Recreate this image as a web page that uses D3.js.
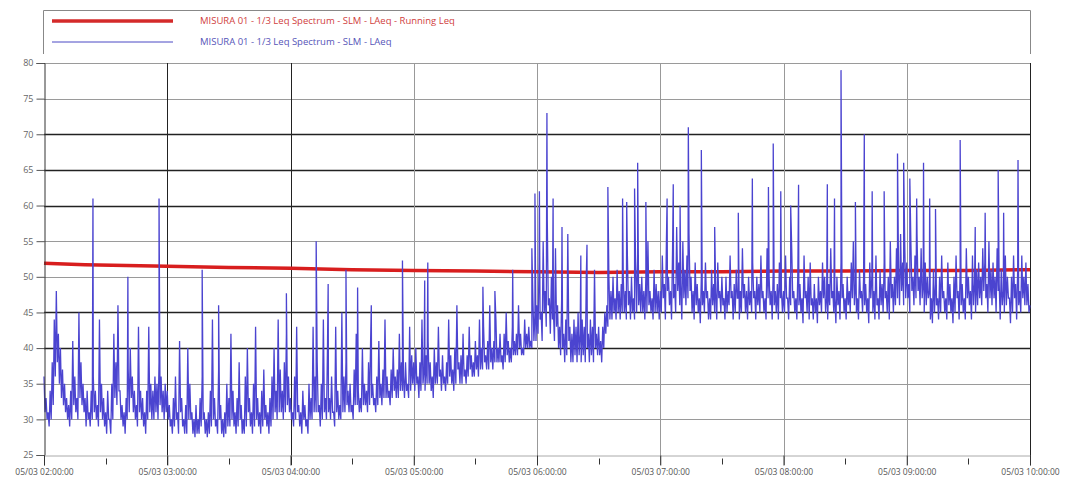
<!DOCTYPE html>
<html>
<head>
<meta charset="utf-8">
<script src="https://cdn.jsdelivr.net/npm/d3@7"></script>
<style>
  body { margin: 0; background: #fff; }
  svg text { font-family: "Open Sans", "DejaVu Sans", sans-serif; }
</style>
</head>
<body>
<svg id="chart" width="1065" height="482"></svg>
<script>
// LAeq read per minute (05/03 02:00 -> 10:00): upper value at :00, lower value at :30
var hi02 = [36,33,31,34,38,44,48,42,40,37,35,33,32,34,41,36,33,45,38,35,33,34,31,34,36,34,32,44,35,33,31,34,30,35,42,38,46,34,32,31,33,37,40,36,34,32,43,34,33,31,34,43,35,34,36,35,38,36,34,35];
var lo02 = [31,30,29,30,32,36,38,35,33,32,31,30,29,30,32,31,30,33,32,31,29,30,29,30,31,30,29,31,30,29,28,30,28,30,33,32,34,30,29,28,30,31,33,31,30,29,31,30,29,28,30,31,30,30,31,30,32,31,30,31];
var hi03 = [34,32,30,33,36,31,41,33,30,32,40,35,31,30,32,30,33,36,31,30,31,34,44,33,30,37,32,30,31,35,33,42,34,31,33,38,32,30,36,40,33,31,35,43,33,31,34,37,32,31,33,36,40,34,44,37,34,38,42,36];
var lo03 = [30,29,28,29,30,28,31,29,28,28,30,30,28,27.5,28,28,29,30,28,27.5,28,29,30,29,28,30,28,27.5,28,29,29,30,29,28,29,30,28,28,29,31,29,28,29,30,29,28,29,30,29,28,29,30,31,30,31,31,30,31,32,31];
var hi04 = [33,31,36,43,32,31,34,32,30,35,33,43,36,38,32,35,44,33,40,33,36,31,43,34,32,45,36,38,34,35,32,37,42,34,33,40,35,34,38,41,35,33,36,41,35,37,44,36,34,37,40,36,37,42,38,36,38,35,43,39];
var lo04 = [30,29,30,31,29,28,30,29,28,30,30,31,31,31,29,30,31,30,31,30,31,29,31,30,30,31,31,32,31,31,30,32,32,31,31,32,32,31,32,33,32,31,32,33,32,33,33,33,32,33,34,33,33,34,34,33,34,33,34,35];
var hi05 = [38,40,36,38,44,37,39,41,38,36,40,38,43,37,39,36,38,44,39,37,40,46,38,39,42,37,39,43,39,38,41,39,44,40,43,39,41,46,40,41,44,40,42,39,42,45,41,40,43,41,42,46,42,40,44,42,43,41,47,45];
var lo05 = [34,35,33,34,35,34,35,35,34,33,35,35,36,34,35,34,35,36,35,34,35,37,35,35,36,35,36,37,36,36,37,36,37,37,38,37,37,38,37,38,38,38,38,37,38,39,38,38,39,39,39,40,39,39,40,40,40,40,41,41];
var hi06 = [46,52,45,55,48,58,47,50,45,54,46,43,47,42,44,56,43,42,44,43,45,42,44,43,50,42,44,43,51,42,43,41,43,45,46,50,48,50,47,51,48,49,50,48,53,48,50,47,52,53,49,50,48,50,55,48,47,51,49,48];
var lo06 = [42,44,41,45,43,46,42,44,41,43,40,39,40,38,39,41,38,38,39,38,39,38,39,38,40,38,39,38,40,39,39,38,40,42,43,44,44,45,44,45,44,45,45,44,46,44,45,44,45,46,45,45,44,45,46,45,44,45,45,44];
var hi07 = [48,53,49,55,50,48,54,49,57,52,49,55,51,53,56,50,48,52,49,47,50,48,52,48,47,51,49,48,52,48,50,47,50,48,53,48,49,51,47,48,54,49,48,50,48,52,48,50,49,53,48,47,54,50,48,51,48,49,52,48];
var lo07 = [45,47,44,48,46,44,47,45,48,46,44,47,46,47,48,45,44,46,45,43.5,46,45,47,44,44,46,45,44,47,45,46,44,45,46,47,44,45,47,44,45,47,45,44,46,45,47,44,46,45,47,45,44,47,46,44,46,45,44,47,45];
var hi08 = [48,53,47,50,54,48,47,51,49,47,53,48,50,52,47,49,47,50,48,52,50,47,49,54,48,47,50,48,52,49,47,50,48,52,55,49,47,51,48,50,49,47,52,50,48,53,47,51,49,52,48,50,55,49,50,54,51,56,52,55];
var lo08 = [45,47,44,46,47,45,44,46,45,43.5,47,45,44,46,44,45,43.5,46,45,47,45,44,46,47,45,43.5,46,44,47,45,44,46,45,47,46,45,44,47,45,46,45,43.5,47,45,44,46,44,46,45,47,45,44,47,45,46,47,46,48,46,47];
var hi09 = [52,49,55,50,53,56,50,54,49,52,50,48,47,51,49,47,50,53,48,47,52,49,47,50,53,48,51,49,47,54,50,48,53,49,51,52,50,54,52,49,55,51,52,50,54,49,51,48,53,50,47,50,53,49,51,48,53,50,52,49,46];
var lo09 = [47,45,48,46,47,48,46,47,45,46,47,44,43.5,45,46,44,45,47,45,44,46,45,43.5,45,47,44,46,45,44,47,46,44,46,45,46,47,46,48,47,45,47,46,47,45,48,44,46,45,46,47,43.5,45,47,44,46,45,47,46,46,45];

// short events between the minute values
var peaks = [
  ["02:23:50", 61], ["02:40:50", 50], ["02:56:00", 61],
  ["03:17:00", 51], ["03:25:00", 46], ["03:58:00", 47.7],
  ["04:12:30", 55], ["04:18:20", 49], ["04:27:00", 51], ["04:32:40", 48.5], ["04:39:20", 46], ["04:54:30", 52.3],
  ["05:05:20", 49.5], ["05:06:50", 52], ["05:33:40", 48.6], ["05:39:30", 48], ["05:48:10", 51], ["05:57:30", 54], ["05:59:00", 61.7],
  ["06:01:10", 62], ["06:04:50", 73], ["06:07:50", 61], ["06:12:10", 57], ["06:21:20", 53], ["06:24:20", 54.5], ["06:34:30", 62.6],
  ["06:41:40", 61], ["06:43:40", 60.5], ["06:47:30", 62.4], ["06:49:00", 66], ["06:53:00", 60.5],
  ["07:03:20", 61], ["07:06:20", 63], ["07:09:40", 60], ["07:13:40", 71], ["07:20:00", 67.8], ["07:26:30", 57], ["07:38:00", 59],
  ["07:44:50", 63.8], ["07:52:40", 62.6], ["07:55:00", 68.7], ["07:58:40", 62],
  ["08:03:30", 60], ["08:07:20", 62.9], ["08:21:20", 63], ["08:24:50", 61], ["08:28:00", 79], ["08:35:00", 60.5], ["08:39:20", 70],
  ["08:43:10", 62], ["08:49:00", 62], ["08:55:30", 67.3], ["08:58:30", 66],
  ["09:01:30", 63.8], ["09:04:50", 61], ["09:08:10", 66], ["09:11:10", 61], ["09:14:00", 59.5], ["09:26:00", 69.2], ["09:33:20", 57],
  ["09:38:10", 59], ["09:44:30", 65], ["09:47:10", 59], ["09:54:10", 66.4]
];

// running Leq
var runTimes = ["02:00:00","02:20:00","02:40:00","03:00:00","03:30:00","04:00:00","04:30:00","05:00:00","05:30:00","06:00:00","06:30:00","07:00:00","07:30:00","08:00:00","08:30:00","09:00:00","09:30:00","10:00:00"];
var runLeq = [51.9,51.7,51.6,51.5,51.3,51.2,51.0,50.9,50.8,50.7,50.6,50.7,50.7,50.8,50.8,50.9,50.9,51.0];

var yTicks = [25,30,35,40,45,50,55,60,65,70,75,80];
var legendLabels = ["MISURA 01 - 1/3 Leq Spectrum - SLM - LAeq - Running Leq", "MISURA 01 - 1/3 Leq Spectrum - SLM - LAeq"];

var width = 1065, height = 482;
var margin = {top: 63, right: 35, bottom: 27, left: 44};

var parseT = d3.timeParse("%d/%m/%Y %H:%M:%S");
function t(hms) { return parseT("05/03/2021 " + hms); }

var start = t("02:00:00"), end = t("10:00:00");

var x = d3.scaleTime().domain([start, end]).range([margin.left, width - margin.right]);
var y = d3.scaleLinear().domain([25, 80]).range([height - margin.bottom, margin.top]);

// build the LAeq series
var series = [];
var hiArr = [hi02, hi03, hi04, hi05, hi06, hi07, hi08, hi09];
var loArr = [lo02, lo03, lo04, lo05, lo06, lo07, lo08, lo09];
hiArr.forEach(function(arr, h) {
  arr.forEach(function(v, m) {
    var t0 = d3.timeMinute.offset(start, h * 60 + m);
    series.push({t: t0, v: v});
    if (loArr[h][m] != null) series.push({t: d3.timeSecond.offset(t0, 30), v: loArr[h][m]});
  });
});
peaks.forEach(function(p) { series.push({t: t(p[0]), v: p[1]}); });
series.sort(function(a, b) { return a.t - b.t; });

var running = runTimes.map(function(d, i) { return {t: t(d), v: runLeq[i]}; });

var svg = d3.select("#chart");

// legend box
var lg = svg.append("g");
lg.append("path")
  .attr("d", "M" + (margin.left - 0.5) + ",54 V10.5 H" + (width - margin.right + 0.5) + " V54")
  .attr("fill", "none").attr("stroke", "#888").attr("stroke-width", 1);
lg.append("line").attr("x1", 52).attr("x2", 173).attr("y1", 21).attr("y2", 21)
  .attr("stroke", "#d42a2a").attr("stroke-width", 3.5);
lg.append("line").attr("x1", 52).attr("x2", 173).attr("y1", 42).attr("y2", 42)
  .attr("stroke", "#4a48c4").attr("stroke-width", 1);
lg.append("text").attr("x", 200).attr("y", 21).attr("dy", "0.35em")
  .attr("font-size", 9.5).attr("fill", "#d04040").text(legendLabels[0]);
lg.append("text").attr("x", 200).attr("y", 42).attr("dy", "0.35em")
  .attr("font-size", 9.5).attr("fill", "#5654b8").text(legendLabels[1]);

// horizontal grid
var darkY = [40, 45, 60, 65, 70];
svg.append("g").selectAll("line").data(yTicks.slice(1)).enter().append("line")
  .attr("x1", margin.left).attr("x2", width - margin.right)
  .attr("y1", function(d) { return Math.round(y(d)) + 0.5; })
  .attr("y2", function(d) { return Math.round(y(d)) + 0.5; })
  .attr("stroke", function(d) { return darkY.indexOf(d) >= 0 ? "#222" : "#9a9a9a"; })
  .attr("stroke-width", function(d) { return darkY.indexOf(d) >= 0 ? 1.3 : 1; });

// vertical grid, one per hour
var hoursTicks = d3.timeHour.range(start, d3.timeMinute.offset(end, 1));
var halfTicks = d3.timeMinute.every(30).range(start, end).filter(function(d) { return d.getMinutes() == 30; });
var darkX = [3, 4, 10];
svg.append("g").selectAll("line").data(hoursTicks.slice(1)).enter().append("line")
  .attr("x1", function(d) { return Math.round(x(d)) + 0.5; })
  .attr("x2", function(d) { return Math.round(x(d)) + 0.5; })
  .attr("y1", margin.top).attr("y2", height - margin.bottom + 10)
  .attr("stroke", function(d) { return darkX.indexOf(d.getHours()) >= 0 ? "#222" : "#999"; })
  .attr("stroke-width", 1);

// running Leq (under the LAeq trace)
svg.append("path").datum(running)
  .attr("fill", "none")
  .attr("stroke", "#d81e1e")
  .attr("stroke-width", 3.5)
  .attr("d", d3.line().x(function(d) { return x(d.t); }).y(function(d) { return y(d.v); }));

// LAeq line
svg.append("path").datum(series)
  .attr("fill", "none")
  .attr("stroke", "#4b44d0")
  .attr("stroke-width", 1.3)
  .attr("d", d3.line().x(function(d) { return x(d.t); }).y(function(d) { return y(d.v); }));

// y axis
var yAxis = d3.axisLeft(y).tickValues(yTicks).tickSize(8).tickPadding(3);
var gy = svg.append("g").attr("transform", "translate(" + (margin.left + 0.5) + ",0)").call(yAxis);
gy.select(".domain").attr("stroke", "#333");
gy.selectAll(".tick line").attr("stroke", "#555");
gy.selectAll("text").attr("font-size", 9).attr("fill", "#666");

// x axis
var fmt = d3.timeFormat("%d/%m %H:%M:%S");
var xAxis = d3.axisBottom(x).tickValues(hoursTicks).tickFormat(fmt).tickSize(10).tickPadding(3);
var gx = svg.append("g").attr("transform", "translate(0," + (height - margin.bottom + 0.5) + ")").call(xAxis);
gx.select(".domain").attr("stroke", "#aaa");
gx.selectAll(".tick line").attr("stroke", "#333");
gx.selectAll("text").attr("font-size", 8.5).attr("fill", "#555");
gx.append("g").selectAll("line").data(halfTicks).enter().append("line")
  .attr("x1", function(d) { return Math.round(x(d)) + 0.5; })
  .attr("x2", function(d) { return Math.round(x(d)) + 0.5; })
  .attr("y1", 3).attr("y2", 9)
  .attr("stroke", "#333");
</script>
</body>
</html>
